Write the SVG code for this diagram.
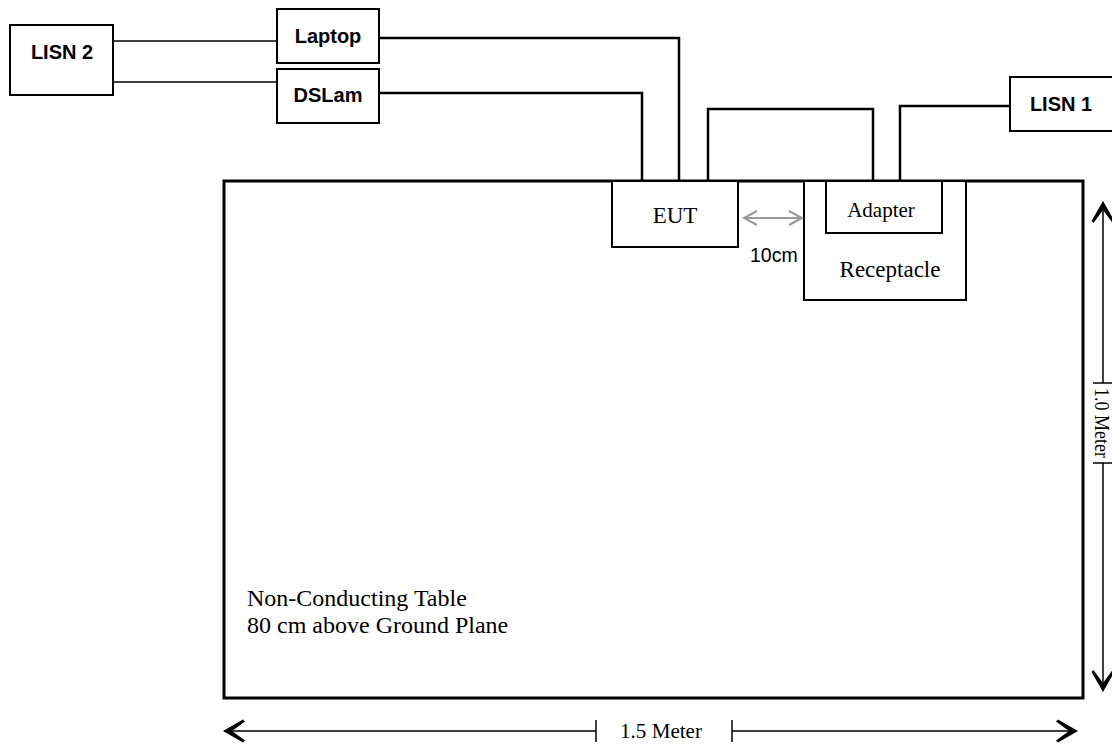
<svg xmlns="http://www.w3.org/2000/svg" width="1112" height="745" viewBox="0 0 1112 745">
<defs>
<style>
.box{fill:#fff;stroke:#000;stroke-width:2}
.cable{fill:none;stroke:#000;stroke-width:2.5}
.thin{fill:none;stroke:#000;stroke-width:1.6}
.dim{fill:none;stroke:#000;stroke-width:1.5}
.bold{font-family:"Liberation Sans",Arial,sans-serif;font-weight:bold;font-size:20px;fill:#000;text-anchor:middle}
.serif{font-family:"Liberation Serif","Times New Roman",serif;fill:#000}
.sans{font-family:"Liberation Sans",Arial,sans-serif;fill:#000}
</style>
<marker id="bigArrow" markerUnits="userSpaceOnUse" markerWidth="26" markerHeight="26" viewBox="-22 -13 26 26" refX="0" refY="0" orient="auto-start-reverse">
<path d="M1,0 L-19,-11.5 L-21,-9.5 L-8,0 L-21,9.5 L-19,11.5 Z" fill="#000"/>
</marker>
<marker id="grayArrow" markerUnits="userSpaceOnUse" markerWidth="18" markerHeight="18" viewBox="-16 -9 18 18" refX="0" refY="0" orient="auto-start-reverse">
<path d="M-13,-7 L0,0 L-13,7" fill="none" stroke="#999" stroke-width="2"/>
</marker>
</defs>
<rect width="1112" height="745" fill="#fff"/>

<g id="table">
<rect x="224" y="181" width="859" height="517" fill="#fff" stroke="#000" stroke-width="3"/>
<text class="serif" x="247" y="606" font-size="24">Non-Conducting Table</text>
<text class="serif" x="247" y="633" font-size="24">80 cm above Ground Plane</text>
</g>

<g id="connectors">
<polyline class="thin" points="113,41 276,41"/>
<polyline class="thin" points="111,82 276,82"/>
<polyline class="cable" points="379,38 679,38 679,182"/>
<polyline class="cable" points="379,93 642,93 642,182"/>
<polyline class="cable" points="708,182 708,109 873,109 873,182"/>
<polyline class="cable" points="900,182 900,106 1010,106"/>
</g>

<g id="lisn2">
<rect class="box" x="10" y="25" width="103" height="70"/>
<text class="bold" x="62" y="59">LISN 2</text>
</g>
<g id="laptop">
<rect class="box" x="277" y="9" width="102" height="54"/>
<text class="bold" x="328" y="43">Laptop</text>
</g>
<g id="dslam">
<rect class="box" x="277" y="69" width="102" height="54"/>
<text class="bold" x="328" y="102">DSLam</text>
</g>
<g id="lisn1">
<rect class="box" x="1010" y="77" width="120" height="54"/>
<text class="bold" x="1061" y="111">LISN 1</text>
</g>
<g id="eut">
<rect class="box" x="612" y="181" width="126" height="66"/>
<text class="serif" x="675" y="223" font-size="23" text-anchor="middle">EUT</text>
</g>
<g id="receptacle">
<rect class="box" x="804" y="181" width="162" height="119"/>
<text class="serif" x="890" y="277" font-size="23" text-anchor="middle">Receptacle</text>
</g>
<g id="adapter">
<rect class="box" x="826" y="181" width="116" height="52"/>
<text class="serif" x="881" y="217" font-size="21" text-anchor="middle">Adapter</text>
</g>

<g id="gap">
<line x1="744" y1="218" x2="802" y2="218" stroke="#999" stroke-width="2" marker-start="url(#grayArrow)" marker-end="url(#grayArrow)"/>
<text class="sans" x="750" y="262" font-size="19.5">10cm</text>
</g>

<g id="dimensions">
<line class="dim" x1="596" y1="731" x2="224" y2="731" marker-end="url(#bigArrow)"/>
<line class="dim" x1="596" y1="720" x2="596" y2="742"/>
<line class="dim" x1="732" y1="731" x2="1077" y2="731" marker-end="url(#bigArrow)"/>
<line class="dim" x1="732" y1="720" x2="732" y2="742"/>
<text class="serif" x="620" y="738" font-size="21" textLength="82" lengthAdjust="spacingAndGlyphs">1.5 Meter</text>
<line class="dim" x1="1103" y1="383" x2="1103" y2="202" marker-end="url(#bigArrow)"/>
<line class="dim" x1="1093" y1="383" x2="1112" y2="383"/>
<line class="dim" x1="1103" y1="463" x2="1103" y2="691" marker-end="url(#bigArrow)"/>
<line class="dim" x1="1093" y1="463" x2="1112" y2="463"/>
<text class="serif" transform="translate(1095,388) rotate(90)" x="0" y="0" font-size="20" textLength="70" lengthAdjust="spacingAndGlyphs">1.0 Meter</text>
</g>
</svg>
